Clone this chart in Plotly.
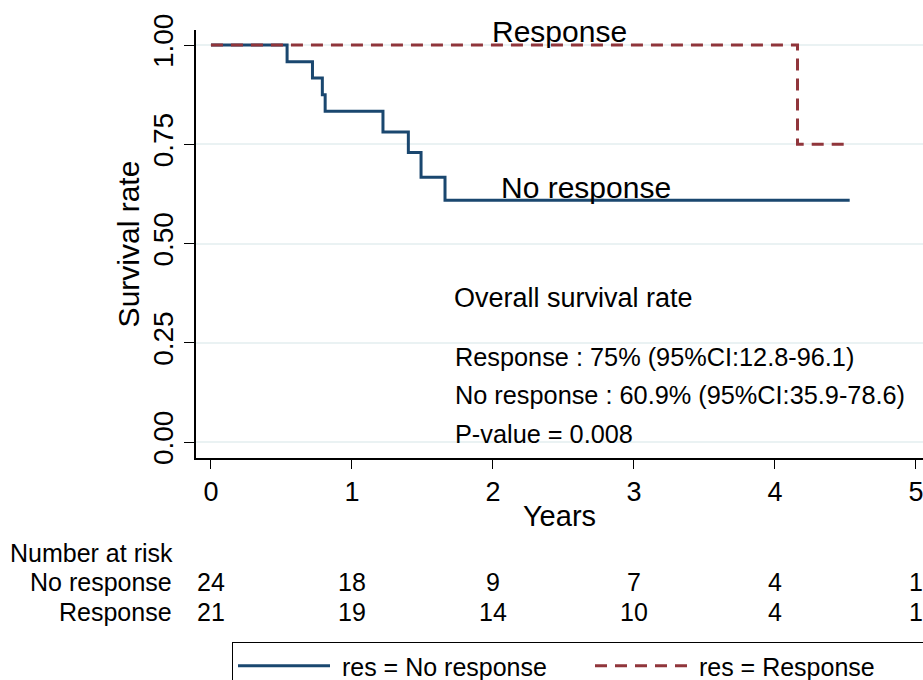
import plotly.graph_objects as go

# ---- data ----
years_nr = [0, 0.54, 0.72, 0.79, 0.81, 1.22, 1.40, 1.49, 1.66, 4.53]
surv_nr = [1.0, 0.958, 0.917, 0.875, 0.833, 0.781, 0.729, 0.667, 0.609, 0.609]
years_r = [0, 4.16, 4.49]
surv_r = [1.0, 0.75, 0.75]

risk_years = [0, 1, 2, 3, 4, 5]
risk_nr = [24, 18, 9, 7, 4, 1]
risk_r = [21, 19, 14, 10, 4, 1]

y_ticks = [0, 0.25, 0.5, 0.75, 1.0]
y_ticklabels = ["0.00", "0.25", "0.50", "0.75", "1.00"]

NAVY = "#1a476f"
MAROON = "#90353b"
FONT = "Liberation Sans, Arial, sans-serif"

W, H = 923, 680
ML, MR, MT, MB = 196, 0, 30, 222
PH = H - MT - MB
PW = W - ML - MR


def py(pix):
    """pixel row -> paper y"""
    return (H - MB - pix) / PH


def px(pix):
    """pixel column -> paper x"""
    return (pix - ML) / PW


fig = go.Figure()
fig.add_trace(go.Scatter(x=years_nr, y=surv_nr, mode="lines", line_shape="hv",
                         line=dict(color=NAVY, width=3), name="\u00a0res = No response"))
fig.add_trace(go.Scatter(x=years_r, y=surv_r, mode="lines", line_shape="hv",
                         line=dict(color=MAROON, width=3, dash="12px,8px"),
                         name="\u00a0res = Response"))

ann = []


def add_text(x, y, text, size, xref="x", yref="y", xanchor="center"):
    ann.append(dict(x=x, y=y, text=text, showarrow=False, xref=xref, yref=yref,
                    xanchor=xanchor, yanchor="middle", font=dict(size=size, color="black")))


add_text(2.47, 1.033, "Response", 30)
add_text(2.66, 0.642, "No response", 30)
add_text(1.71, 0.363, "Overall survival rate", 27, xanchor="left")
add_text(1.72, 0.214, "Response : 75% (95%CI:12.8-96.1)", 25.3, xanchor="left")
add_text(1.72, 0.118, "No response : 60.9% (95%CI:35.9-78.6)", 25.3, xanchor="left")
add_text(1.72, 0.020, "P-value = 0.008", 25.3, xanchor="left")

# number at risk table
RF = 25
add_text(px(8), py(553), "Number at risk", RF, xref="paper", yref="paper", xanchor="left")
add_text(px(174), py(582), "No response", RF, xref="paper", yref="paper", xanchor="right")
add_text(px(174), py(612), "Response", RF, xref="paper", yref="paper", xanchor="right")
for yr, a, b in zip(risk_years, risk_nr, risk_r):
    add_text(yr, py(582), str(a), RF, yref="paper")
    add_text(yr, py(612), str(b), RF, yref="paper")

fig.update_layout(
    width=W, height=H,
    margin=dict(l=ML, r=MR, t=MT, b=MB, pad=0, autoexpand=False),
    paper_bgcolor="white", plot_bgcolor="white",
    font=dict(family=FONT, color="black"),
    annotations=ann,
    showlegend=True,
    legend=dict(orientation="h", x=px(232), y=py(642),
                xanchor="left", yanchor="top", bordercolor="black", borderwidth=1,
                font=dict(size=25, color="black"), itemwidth=92, entrywidth=250,
                bgcolor="white"),
)
fig.update_xaxes(range=[-0.106, 5.05], tickvals=risk_years, showgrid=False, zeroline=False,
                 showline=True, linecolor="black", linewidth=1.5, ticks="outside", ticklen=9,
                 tickcolor="black", tickfont=dict(size=27), automargin=False,
                 ticklabeloverflow="allow",
                 title=dict(text="Years", font=dict(size=29), standoff=0))
fig.update_yaxes(range=[-0.0403, 1.0378], tickvals=y_ticks, ticktext=y_ticklabels,
                 showgrid=True, gridcolor="#eaf2f3", gridwidth=1.5, zeroline=False,
                 showline=True, linecolor="black", linewidth=1.5, ticks="outside", ticklen=10,
                 tickcolor="black", tickangle=-90, tickfont=dict(size=28), automargin=False,
                 title=dict(text="Survival rate", font=dict(size=30), standoff=0))

fig.write_html("out.html", config={"displayModeBar": False},
               post_script="document.body.style.margin='0';document.body.style.overflow='hidden';")
